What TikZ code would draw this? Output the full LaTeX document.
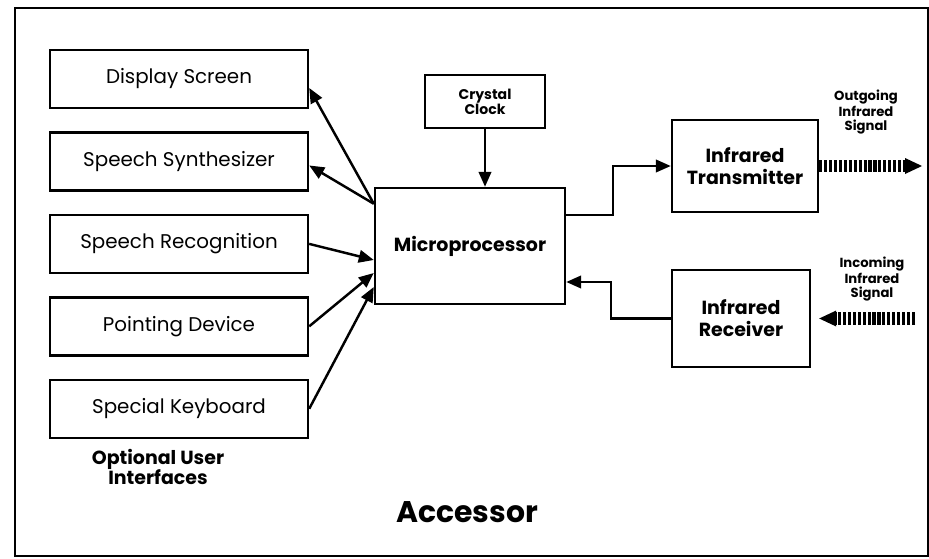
\documentclass[tikz,border=0pt]{standalone}
\usepackage{fontspec}
\setmainfont{Poppins}
\usetikzlibrary{arrows.meta,positioning}
\tikzset{
  ifbox/.style={draw=black, line width=1.4pt, minimum width=5.16cm, minimum height=1.16cm, inner sep=2pt, font=\fontsize{11.3}{13}\selectfont},
  unitbox/.style={draw=black, line width=1.4pt, align=center, inner sep=2pt, font=\bfseries\fontsize{10.8}{12.5}\selectfont},
  flowarrow/.style={-{Triangle[length=0.3cm,width=0.25cm]}, line width=1.4pt, draw=black},
  sigarrow/.style={-{Triangle[length=0.34cm,width=0.32cm,line width=0pt]}, line width=7pt, dash pattern=on 1.8pt off 1pt, draw=black},
  siglabel/.style={align=center, inner sep=0pt, font=\bfseries\fontsize{7.5}{7.6}\selectfont}
}
\begin{document}
\begin{tikzpicture}[x=0.02cm, y=-0.02cm, node distance=0.44cm]
\useasboundingbox (0,0) rectangle (929,558);
\draw[line width=1.2pt] (15,8) rectangle (928,556);
% user interfaces
\node[ifbox] (disp) at (179,79) {Display Screen};
\node[ifbox,below=of disp] (synth) {Speech Synthesizer};
\node[ifbox,below=of synth] (recog) {Speech Recognition};
\node[ifbox,below=of recog] (point) {Pointing Device};
\node[ifbox,below=of point] (kbd) {Special Keyboard};
\node[align=center, inner sep=0pt, font=\bfseries\fontsize{10.8}{11.5}\selectfont] (optlbl) at (158,467) {Optional User\\Interfaces};
% core units
\node[unitbox, minimum width=3.8cm, minimum height=2.32cm] (micro) at (470,246) {Microprocessor};
\node[unitbox, minimum width=2.4cm, minimum height=1.06cm, font=\bfseries\fontsize{8}{8.5}\selectfont] (clock) at (485,101.5) {Crystal\\Clock};
\node[unitbox, minimum width=2.92cm, minimum height=1.84cm] (tx) at (745,166) {Infrared\\Transmitter};
\node[unitbox, minimum width=2.76cm, minimum height=1.94cm] (rx) at (741,318.5) {Infrared\\Receiver};
\node[siglabel] (outlbl) at (866,112) {Outgoing\\Infrared\\Signal};
\node[siglabel] (inlbl) at (872,279) {Incoming\\Infrared\\Signal};
\node[font=\bfseries\fontsize{17}{20}\selectfont, inner sep=0pt] (title) at (467,512) {Accessor};
\coordinate (outend) at (922,166);
\coordinate (inbeg) at (915,318.5);
% connectors
\draw[flowarrow] ([yshift=-0.34cm]micro.north west) -- ([yshift=-0.18cm]disp.east);
\draw[flowarrow] ([yshift=-0.34cm]micro.north west) -- ([yshift=-0.08cm]synth.east);
\draw[flowarrow] (recog.east) -- ([yshift=-0.28cm]micro.west);
\draw[flowarrow] (point.east) -- ([yshift=-0.54cm]micro.west);
\draw[flowarrow] (kbd.east) -- ([yshift=-0.82cm]micro.west);
\draw[flowarrow] (clock.south) -- (clock.south |- micro.north);
\draw[flowarrow] ([yshift=0.62cm]micro.east) -- ++(0.94cm,0) |- (tx.west);
\draw[flowarrow] (rx.west) -- ++(-1.2cm,0) |- ([yshift=-0.72cm]micro.east);
\draw[sigarrow] (tx.east) -- (outend);
\draw[sigarrow, shorten >=0.16cm] (inbeg) -- (rx.east);
\end{tikzpicture}
\end{document}
